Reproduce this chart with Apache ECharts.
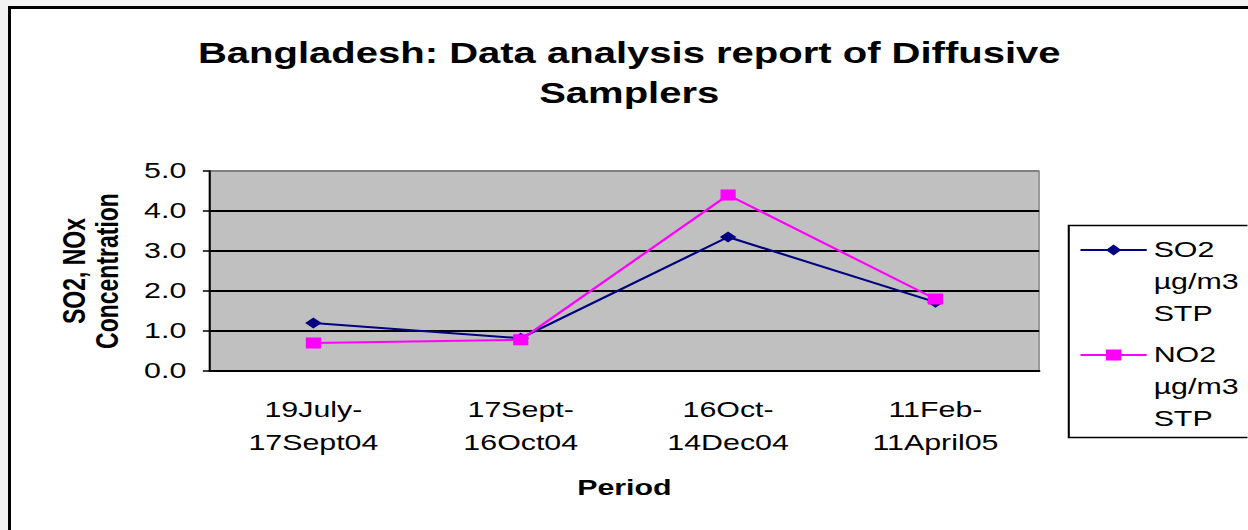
<!DOCTYPE html>
<html>
<head>
<meta charset="utf-8">
<script src="https://cdn.jsdelivr.net/npm/echarts@6/dist/echarts.min.js"></script>
<style>
html, body {
  margin: 0;
  padding: 0;
  background: #f3f3f3;
  overflow: hidden;
}

.frame {
  position: absolute;
  left: 8px;
  top: 6px;
  width: 1240px;
  height: 524px;
  border-top: 3px solid #000;
  border-left: 3px solid #000;
  background: #fff;
  overflow: hidden;
}

/* the original chart is stretched sideways, so draw narrow and scale */
.chart-container {
  width: 896px;
  height: 521px;
  transform: scaleX(1.38);
  transform-origin: 0 0;
}
</style>
</head>
<body>
<div class="frame">
  <div class="chart-container" id="container1"></div>
</div>
<script>
// categories (periods)
const periods = [
  "19July-\n17Sept04",
  "17Sept-\n16Oct04",
  "16Oct-\n14Dec04",
  "11Feb-\n11April05",
];

// series values, µg/m3 STP
const so2Values = [1.2, 0.82, 3.35, 1.72];
const no2Values = [0.7, 0.78, 4.4, 1.8];

const seriesNames = ["SO2\nµg/m3\nSTP", "NO2\nµg/m3\nSTP"];

const fontFamily = "'Liberation Sans', Arial, sans-serif";

function initChart() {
  var myChart = echarts.init(document.getElementById("container1"), null, {
    renderer: "svg",
  });
  myChart.setOption({
    animation: false,
    title: {
      text: "Bangladesh: Data analysis report of Diffusive\nSamplers",
      left: "center",
      top: 19,
      textStyle: {
        fontFamily: fontFamily,
        fontSize: 29,
        fontWeight: "bold",
        lineHeight: 40,
        color: "#000",
      },
    },
    legend: {
      orient: "vertical",
      left: 774,
      top: 161,
      padding: 0,
      itemGap: -55,
      itemWidth: 48,
      itemHeight: 14,
      // blank lines keep the marker level with the first text line
      formatter: (name) => "\n\n" + name,
      textStyle: {
        fontFamily: fontFamily,
        fontSize: 22,
        lineHeight: 32,
        color: "#000",
      },
      data: seriesNames,
    },
    graphic: [
      {
        type: "rect",
        left: 764,
        top: 214,
        shape: { width: 131, height: 212 },
        style: { fill: "none", stroke: "#000", lineWidth: 1.5 },
      },
    ],
    grid: {
      left: 144,
      top: 162,
      width: 601,
      height: 200,
      show: true,
      backgroundColor: "#c0c0c0",
      borderColor: "#808080",
      borderWidth: 1,
    },
    xAxis: {
      type: "category",
      data: periods,
      name: "Period",
      nameLocation: "middle",
      nameGap: 106,
      nameTextStyle: {
        fontFamily: fontFamily,
        fontSize: 22,
        fontWeight: "bold",
        lineHeight: 22,
        color: "#000",
      },
      axisLine: { lineStyle: { color: "#000", width: 2 } },
      axisTick: { length: 9, lineStyle: { color: "#000", width: 1.5 } },
      axisLabel: {
        margin: 22,
        fontFamily: fontFamily,
        fontSize: 22,
        lineHeight: 33,
        color: "#000",
      },
    },
    yAxis: {
      type: "value",
      min: 0,
      max: 5,
      interval: 1,
      name: "SO2, NOx\nConcentration",
      nameLocation: "middle",
      nameRotate: 90,
      nameGap: 62,
      nameTextStyle: {
        fontFamily: fontFamily,
        fontSize: 23,
        fontWeight: "bold",
        lineHeight: 24,
        color: "#000",
      },
      axisLine: { show: true, lineStyle: { color: "#000", width: 1.5 } },
      axisTick: { show: true, length: 5, lineStyle: { color: "#000", width: 1.5 } },
      axisLabel: {
        margin: 17,
        fontFamily: fontFamily,
        fontSize: 22,
        color: "#000",
        formatter: (v) => v.toFixed(1),
      },
      splitLine: {
        lineStyle: {
          color: ["#000", "#000", "#000", "#000", "#000", "#808080"],
          width: 2,
        },
      },
    },
    series: [
      {
        name: seriesNames[0],
        type: "line",
        data: so2Values,
        symbol: "diamond",
        symbolSize: [12, 11],
        lineStyle: { color: "#000080", width: 2 },
        itemStyle: { color: "#000080" },
        z: 3,
      },
      {
        name: seriesNames[1],
        type: "line",
        data: no2Values,
        symbol: "rect",
        symbolSize: [11, 11],
        lineStyle: { color: "#ff00ff", width: 2 },
        itemStyle: { color: "#ff00ff" },
        z: 4,
      },
    ],
  });
}

initChart();
</script>
</body>
</html>
